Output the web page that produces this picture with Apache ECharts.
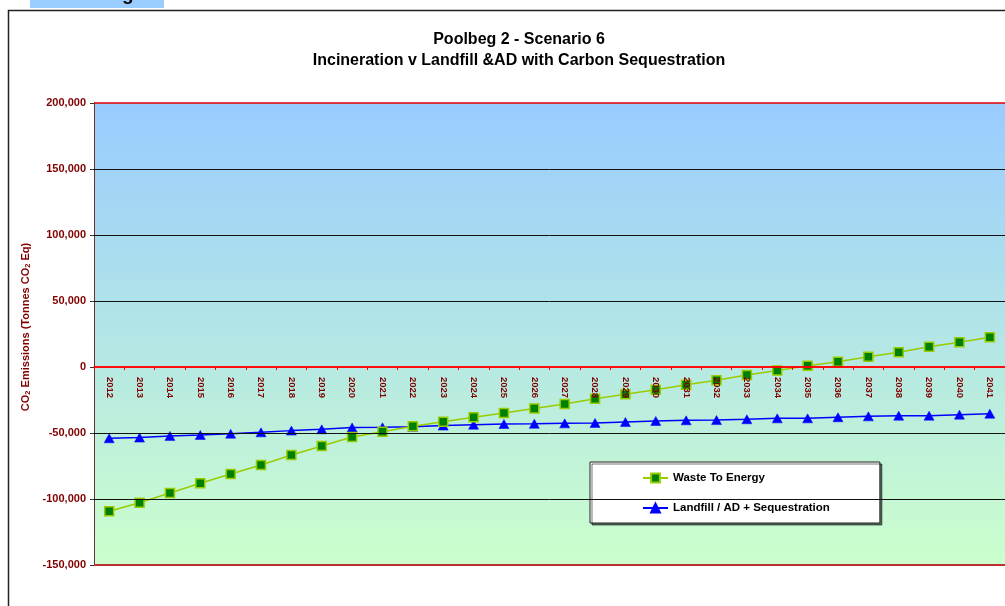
<!DOCTYPE html>
<html>
<head>
<meta charset="utf-8">
<title>Poolbeg 2 - Scenario 6</title>
<script src="https://cdn.jsdelivr.net/npm/echarts@6/dist/echarts.min.js"></script>
<style>
	html, body { margin: 0; padding: 0; background: #fff; }
	#chart { width: 1005px; height: 606px; }
</style>
</head>
<body>
<div id="chart"></div>
<script>
/*** Poolbeg 2 - Scenario 6 ***/
var years = ['2012', '2013', '2014', '2015', '2016', '2017', '2018', '2019', '2020', '2021',
	'2022', '2023', '2024', '2025', '2026', '2027', '2028', '2029', '2030', '2031',
	'2032', '2033', '2034', '2035', '2036', '2037', '2038', '2039', '2040', '2041'];
// 焚烧 (Waste To Energy)
var wasteToEnergy = [-109300, -102800, -95500, -88100, -81100, -74200, -66700, -59800, -53000, -49000,
	-44900, -41400, -38000, -34800, -31400, -28000, -24100, -20600, -17200, -13500,
	-10100, -6100, -2700, 900, 4000, 7800, 11100, 15400, 18700, 22500];
// 填埋 (Landfill / AD + Sequestration)
var landfillSeq = [-54000, -53500, -52200, -51500, -50500, -49500, -48200, -47200, -45800, -45700,
	-45200, -44400, -43700, -43200, -43000, -42700, -42400, -41700, -40900, -40400,
	-40200, -39600, -38900, -38900, -38100, -37400, -36900, -36900, -36100, -35400];
var yTicks = [-150000, -100000, -50000, 0, 50000, 100000, 150000, 200000];

var font = 'Liberation Sans, Arial, sans-serif';
var darkRed = '#800000';
// 绘图区位置
var gridLeft = 94, gridTop = 103, gridHeight = 462;

var poolbeg = {
	init: function() {
		this.chart = echarts.init(document.getElementById('chart'));
		this.draw();
	},
	//零轴离底边的偏移
	zeroOffset: function() {
		var min = yTicks[0], max = yTicks[yTicks.length - 1];
		return -Math.round(gridHeight * (0 - min) / (max - min));
	},
	//网格线: 零线和上下边框用红色，其余黑色
	gridLines: function() {
		var last = yTicks.length - 1;
		return yTicks.map(function(v, i) {
			var color = '#111', width = 1;
			if (i === last) { color = '#E00000'; width = 1.5; }
			else if (i === 0) { color = '#B83030'; width = 2; }
			else if (v === 0) { color = '#FF0000'; width = 1.6; }
			return { yAxis: v, lineStyle: { color: color, width: width, type: 'solid' } };
		});
	},
	draw: function() {
		var option = {
			animation: false,
			textStyle: { fontFamily: font },
			title: {
				text: 'Poolbeg 2 - Scenario 6\nIncineration v Landfill &AD with Carbon Sequestration',
				left: 514,
				top: 24,
				textAlign: 'center',
				textStyle: {
					fontFamily: font,
					fontSize: 16,
					fontWeight: 'bold',
					color: '#000',
					lineHeight: 21
				}
			},
			graphic: [{
				type: 'rect',
				shape: { x: 30, y: 0, width: 134, height: 8 },
				style: { fill: '#99CCFF' },
				z: 1
			}, {
				type: 'text',
				x: 122, y: -15,
				style: { text: 'g', font: 'bold 19px ' + font, fill: '#000' },
				z: 2
			}, {
				type: 'rect',
				shape: { x: 8.5, y: 10.5, width: 1100, height: 700 },
				style: { fill: 'none', stroke: '#222', lineWidth: 1.5 },
				z: 0
			}],
			legend: {
				orient: 'vertical',
				left: 590,
				top: 462,
				padding: [10, 50, 9, 52],
				itemGap: 18,
				itemWidth: 25,
				itemHeight: 11,
				backgroundColor: '#fff',
				borderColor: '#222',
				borderWidth: 1,
				shadowColor: 'rgba(0,0,0,0.55)',
				shadowOffsetX: 2,
				shadowOffsetY: 2,
				shadowBlur: 0,
				textStyle: {
					fontFamily: font,
					fontSize: 11.5,
					fontWeight: 'bold',
					color: '#000'
				},
				data: ['Waste To Energy', 'Landfill / AD + Sequestration']
			},
			grid: {
				left: gridLeft,
				top: gridTop,
				right: -4,
				height: gridHeight,
				show: true,
				borderWidth: 0,
				backgroundColor: new echarts.graphic.LinearGradient(0, 0, 0, 1, [
					{ offset: 0, color: '#99CCFF' },
					{ offset: 1, color: '#CCFFCC' }
				])
			},
			xAxis: {
				type: 'category',
				data: years,
				boundaryGap: true,
				offset: this.zeroOffset(),
				axisLine: { onZero: false, lineStyle: { color: '#FF0000', width: 1.5 } },
				axisTick: { show: true, length: 3, lineStyle: { color: '#FF0000' } },
				axisLabel: {
					rotate: -90,
					margin: 10,
					interval: 0,
					fontFamily: font,
					fontSize: 9.5,
					fontWeight: 'bold',
					color: darkRed
				},
				splitLine: { show: false },
				z: 5
			},
			yAxis: {
				type: 'value',
				min: yTicks[0],
				max: yTicks[yTicks.length - 1],
				interval: 50000,
				name: 'CO{sub|2} Emissions (Tonnes CO{sub|2} Eq)',
				nameLocation: 'middle',
				nameGap: 56,
				nameTextStyle: {
					fontFamily: font,
					fontSize: 11,
					fontWeight: 'bold',
					color: darkRed,
					padding: [0, 0, 0, 14],
					rich: {
						sub: { fontSize: 7.5, fontWeight: 'bold', color: darkRed, verticalAlign: 'bottom', padding: [4, 0, 0, 0] }
					}
				},
				axisLine: { show: true, lineStyle: { color: '#663333', width: 1 } },
				axisTick: { show: true, inside: false, length: 4, lineStyle: { color: '#333' } },
				axisLabel: {
					margin: 8,
					fontFamily: font,
					fontSize: 11,
					fontWeight: 'bold',
					color: darkRed,
					formatter: function(v) {
						return echarts.format.addCommas(v);
					}
				},
				splitLine: { show: false }
			},
			series: [{
				name: 'Waste To Energy',
				type: 'line',
				data: wasteToEnergy,
				symbol: 'rect',
				symbolSize: 9,
				itemStyle: { color: '#008000', borderColor: '#99CC00', borderWidth: 1.5 },
				lineStyle: { color: '#99CC00', width: 1.5 },
				z: 3,
				markLine: {
					silent: true,
					symbol: 'none',
					label: { show: false },
					animation: false,
					data: this.gridLines()
				}
			}, {
				name: 'Landfill / AD + Sequestration',
				type: 'line',
				data: landfillSeq,
				symbol: 'triangle',
				symbolSize: [10, 9],
				itemStyle: { color: '#0000FF', borderColor: '#0000FF', borderWidth: 0.5 },
				lineStyle: { color: '#0000FF', width: 1.5 },
				z: 2
			}]
		};
		this.chart.setOption(option, true);
	}
};

poolbeg.init();
</script>
</body>
</html>
